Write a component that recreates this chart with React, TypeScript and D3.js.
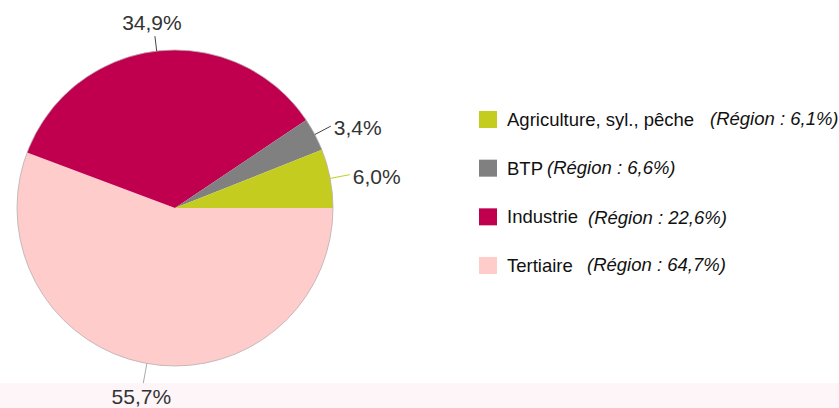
import React from "react";
import * as d3 from "d3";

const categories = ["Agriculture, syl., pêche", "BTP", "Industrie", "Tertiaire"];
const values = [6.0, 3.4, 34.9, 55.7];
const valueLabels = ["6,0%", "3,4%", "34,9%", "55,7%"];
const regionLabels = ["(Région : 6,1%)", "(Région : 6,6%)", "(Région : 22,6%)", "(Région : 64,7%)"];
const colors = ["#c4cc1f", "#808080", "#c0004f", "#ffcccc"];

const W = 839;
const H = 408;
const cx = 175;
const cy = 208;
const R = 158;
const FONT = "'Liberation Sans', Arial, sans-serif";

// leader lengths & italic x positions for legend
const leaderLen = [20, 18, 15, 20];
const legendRegionX = [710, 547, 588, 587];

export default function App() {
  const data = categories.map((c, i) => ({ c, v: values[i], i }));
  // drawn from east, clockwise: Tertiaire, Industrie, BTP, Agriculture
  const order = [...data].reverse();
  const pie = d3
    .pie<any>()
    .value((d) => d.v)
    .sort(null)
    .startAngle(Math.PI / 2)
    .endAngle(Math.PI / 2 + 2 * Math.PI);
  const arcs = pie(order);
  const arc = d3.arc<any>().innerRadius(0).outerRadius(R);

  const legendY = d3.scaleLinear().domain([0, 3]).range([111, 257]);

  return (
    <svg
      width={W}
      height={H}
      style={{ position: "absolute", left: 0, top: 0, background: "#fff" }}
      fontFamily={FONT}
    >
      <rect x={0} y={383} width={W} height={H - 383} fill="#fdf5f8" />
      <g transform={`translate(${cx},${cy})`}>
        {arcs.map((a, k) => (
          <path key={k} d={arc(a) || ""} fill={colors[a.data.i]} />
        ))}
        <circle r={R} fill="none" stroke="#b8b0b0" strokeWidth={0.8} />
        {arcs.map((a, k) => {
          const i = a.data.i;
          const m = (a.startAngle + a.endAngle) / 2;
          const sx = Math.sin(m);
          const sy = -Math.cos(m);
          const r2 = R + leaderLen[i];
          const x1 = R * sx, y1 = R * sy;
          const x2 = r2 * sx, y2 = r2 * sy;
          let tx = x2, ty = y2, anchor = "middle", dy = "0.35em";
          if (Math.abs(sx) > 0.5) {
            tx = x2 + 3;
            anchor = "start";
            ty = y2 + 2;
          } else if (sy < 0) {
            tx = x2 - 3;
            ty = y2 - 6;
            dy = "0";
          } else {
            tx = x2 - 2;
            ty = y2 + 21;
            dy = "0";
          }
          return (
            <g key={"l" + k}>
              <line x1={x1} y1={y1} x2={x2} y2={y2} stroke={sy > 0 ? "#aaa" : colors[i] === "#ffcccc" ? "#aaa" : i === 0 ? colors[0] : "#444"} strokeWidth={1} />
              <text x={tx} y={ty} dy={dy} textAnchor={anchor} fontSize={21} fill="#333">
                {valueLabels[i]}
              </text>
            </g>
          );
        })}
      </g>
      {categories.map((c, i) => {
        const y = legendY(i);
        return (
          <g key={"lg" + i}>
            <rect x={479} y={y} width={18} height={17} fill={colors[i]} />
            <text x={507} y={y + 15} fontSize={18.5} fill="#111">
              {c}
            </text>
            <text x={legendRegionX[i]} y={y + 14 + (i === 2 ? 2 : 0)} fontSize={18.5} fontStyle="italic" fill="#111">
              {regionLabels[i]}
            </text>
          </g>
        );
      })}
    </svg>
  );
}
